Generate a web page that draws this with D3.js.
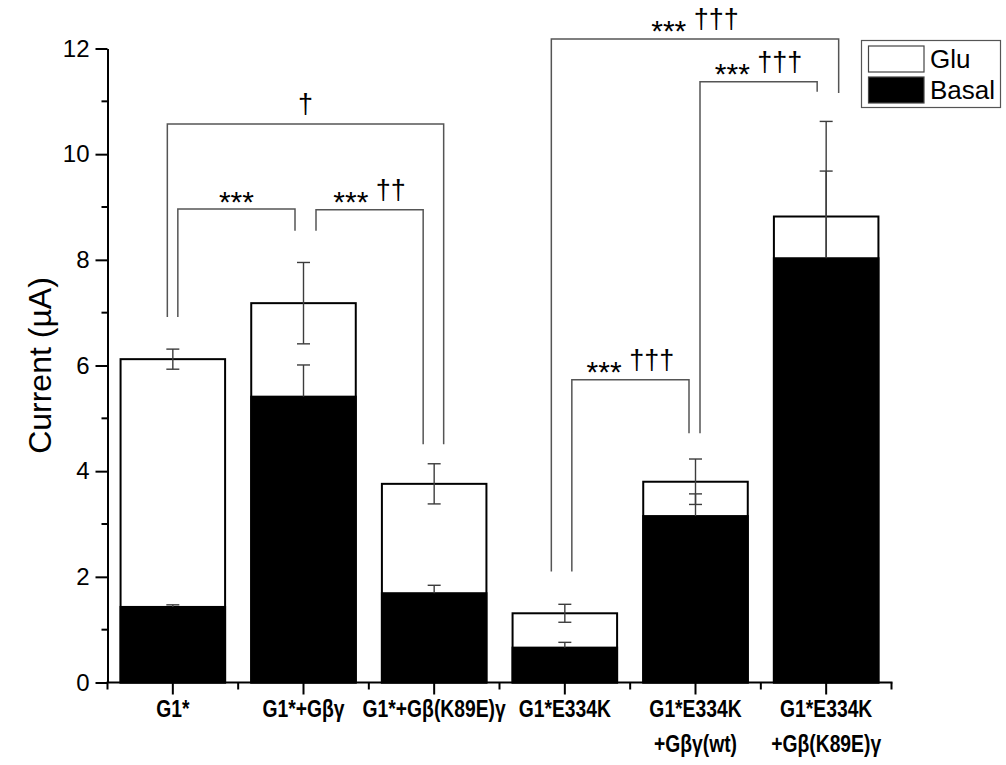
<!DOCTYPE html>
<html>
<head>
<meta charset="utf-8">
<script src="https://cdn.jsdelivr.net/npm/d3@7"></script>
<style>
  html, body { margin: 0; padding: 0; background: #fff; }
  svg { display: block; font-family: "Liberation Sans", Arial, sans-serif; }
</style>
</head>
<body>
<svg id="chart" width="1006" height="765"></svg>
<script>
// Groups (multi-line labels split on "\n")
const categories = [
  "G1*",
  "G1*+Gβγ",
  "G1*+Gβ(K89E)γ",
  "G1*E334K",
  "G1*E334K\n+Gβγ(wt)",
  "G1*E334K\n+Gβ(K89E)γ"
];

// Total current with glutamate (µA) and its error
const gluValues = [6.12, 7.18, 3.76, 1.31, 3.80, 8.82];
const gluErrors = [0.19, 0.77, 0.38, 0.17, 0.43, 1.80];

// Basal current (µA) and its error
const basalValues = [1.43, 5.41, 1.69, 0.66, 3.15, 8.03];
const basalErrors = [0.04, 0.60, 0.15, 0.10, 0.42, 1.65];

const yTicks = [0, 2, 4, 6, 8, 10, 12];
const yMinorTicks = [1, 3, 5, 7, 9, 11];

// Significance brackets: from/to group index, bracket level and leg ends (µA)
const brackets = [
  { from: 0, to: 2, level: 10.57, endFrom: 6.92, endTo: 4.51, stars: "",    daggers: "†",   nudgeFrom: -5.5, nudgeTo: 9.5 },
  { from: 0, to: 1, level: 8.96,  endFrom: 6.92, endTo: 8.55, stars: "***", daggers: "",    nudgeFrom: 5,    nudgeTo: -8.5 },
  { from: 1, to: 2, level: 8.95,  endFrom: 8.55, endTo: 4.51, stars: "***", daggers: "††",  nudgeFrom: 12.5, nudgeTo: -11 },
  { from: 3, to: 5, level: 12.18, endFrom: 2.10, endTo: 11.16, stars: "***", daggers: "†††", nudgeFrom: -13.5, nudgeTo: 12.5 },
  { from: 4, to: 5, level: 11.37, endFrom: 4.72, endTo: 11.18, stars: "***", daggers: "†††", nudgeFrom: 4.5,  nudgeTo: -9 },
  { from: 3, to: 4, level: 5.73,  endFrom: 2.10, endTo: 4.72, stars: "***", daggers: "†††", nudgeFrom: 7,    nudgeTo: -6.5 }
];

const legendItems = [
  { label: "Glu",   fill: "#fff" },
  { label: "Basal", fill: "#000" }
];

const svg = d3.select("#chart");

const plot = { left: 107.5, right: 891.5, top: 48.5, bottom: 682.5 };

const x = d3.scaleBand()
  .domain(categories)
  .range([plot.left, plot.right])
  .paddingInner(0.2)
  .paddingOuter(0.1);

const y = d3.scaleLinear()
  .domain([0, 12])
  .range([plot.bottom, plot.top]);

const cx = i => x(categories[i]) + x.bandwidth() / 2;
const capHalf = 6.5;

function bars(values, fill) {
  svg.append("g").selectAll("rect")
    .data(values)
    .join("rect")
    .attr("x", (d, i) => x(categories[i]))
    .attr("y", d => y(d))
    .attr("width", x.bandwidth())
    .attr("height", d => y(0) - y(d))
    .attr("fill", fill)
    .attr("stroke", "#000")
    .attr("stroke-width", 2);
}

// Error bars; the lower half of the basal ones sits inside the black bar
function errorBars(values, errors, lowerHalf) {
  const g = svg.append("g").attr("stroke", "#3c3c3c").attr("stroke-width", 1.4).attr("fill", "none");
  values.forEach((v, i) => {
    const c = cx(i);
    const hi = y(v + errors[i]);
    const lo = lowerHalf ? y(v - errors[i]) : y(v);
    g.append("line").attr("x1", c).attr("x2", c).attr("y1", hi).attr("y2", lo);
    g.append("line").attr("x1", c - capHalf).attr("x2", c + capHalf).attr("y1", hi).attr("y2", hi);
    if (lowerHalf) {
      g.append("line").attr("x1", c - capHalf).attr("x2", c + capHalf).attr("y1", lo).attr("y2", lo);
    }
  });
}

bars(gluValues, "#fff");
errorBars(gluValues, gluErrors, true);
bars(basalValues, "#000");
errorBars(basalValues, basalErrors, false);

// Y axis
const yAxis = svg.append("g").attr("transform", `translate(${plot.left},0)`);
yAxis.call(d3.axisLeft(y).tickValues(yTicks).tickSize(12).tickSizeOuter(0).tickPadding(6).tickFormat(d3.format("d")));
yAxis.select(".domain").attr("stroke", "#000").attr("stroke-width", 2);
yAxis.selectAll(".tick line").attr("stroke", "#000").attr("stroke-width", 2);
yAxis.selectAll(".tick text")
  .attr("font-size", 24)
  .attr("font-family", "Liberation Sans, Arial, sans-serif")
  .attr("fill", "#000");
yAxis.append("g").selectAll("line")
  .data(yMinorTicks)
  .join("line")
  .attr("x1", 0).attr("x2", -6)
  .attr("y1", d => y(d)).attr("y2", d => y(d))
  .attr("stroke", "#000").attr("stroke-width", 2);

// X axis
const xAxis = svg.append("g").attr("transform", `translate(0,${plot.bottom})`);
xAxis.append("line")
  .attr("x1", plot.left - 1).attr("x2", plot.right + 1)
  .attr("stroke", "#000").attr("stroke-width", 2);
const boundaries = d3.range(categories.length + 1).map(i => plot.left + i * x.step());
xAxis.selectAll(".minor")
  .data(boundaries)
  .join("line")
  .attr("class", "minor")
  .attr("x1", d => d).attr("x2", d => d)
  .attr("y1", 0).attr("y2", 7)
  .attr("stroke", "#000").attr("stroke-width", 2);
xAxis.selectAll(".major")
  .data(categories)
  .join("line")
  .attr("class", "major")
  .attr("x1", (d, i) => cx(i)).attr("x2", (d, i) => cx(i))
  .attr("y1", 0).attr("y2", 12)
  .attr("stroke", "#000").attr("stroke-width", 2);

// Condensed bold group labels
const catLabels = xAxis.selectAll(".cat")
  .data(categories)
  .join("text")
  .attr("class", "cat")
  .attr("text-anchor", "middle")
  .attr("font-weight", "bold")
  .attr("font-size", 23)
  .attr("fill", "#000")
  .attr("transform", (d, i) => `translate(${cx(i)},34) scale(0.84,1)`);
catLabels.each(function(d) {
  const t = d3.select(this);
  d.split("\n").forEach((line, k) => {
    t.append("tspan").attr("x", 0).attr("y", k * 36).text(line);
  });
});

// Axis title
svg.append("text")
  .attr("transform", `translate(51,${(plot.top + plot.bottom) / 2}) rotate(-90)`)
  .attr("text-anchor", "middle")
  .attr("font-size", 32)
  .attr("fill", "#000")
  .text("Current (µA)");

// Significance brackets
const bg = svg.append("g");
brackets.forEach(b => {
  const x1 = cx(b.from) + b.nudgeFrom;
  const x2 = cx(b.to) + b.nudgeTo;
  const yl = y(b.level);
  bg.append("path")
    .attr("d", `M${x1},${y(b.endFrom)}V${yl}H${x2}V${y(b.endTo)}`)
    .attr("fill", "none")
    .attr("stroke", "#555")
    .attr("stroke-width", 1.5);
  const t = bg.append("text")
    .attr("x", (x1 + x2) / 2)
    .attr("y", yl - 11)
    .attr("text-anchor", "middle")
    .attr("fill", "#000");
  if (b.stars) {
    t.append("tspan").attr("font-size", 30).attr("dy", 13.5).text(b.stars);
  }
  if (b.daggers) {
    t.append("tspan").attr("font-size", 27).attr("dy", b.stars ? -13.5 : 0)
      .text((b.stars ? " " : "") + b.daggers);
  }
});

// Legend
const lg = svg.append("g");
lg.append("rect")
  .attr("x", 861.5).attr("y", 40.5).attr("width", 139).attr("height", 67)
  .attr("fill", "#fff").attr("stroke", "#555").attr("stroke-width", 1.2);
legendItems.forEach((item, k) => {
  const top = 46 + k * 31;
  lg.append("rect")
    .attr("x", 868.5).attr("y", top).attr("width", 55.5).attr("height", 26)
    .attr("fill", item.fill).attr("stroke", "#444").attr("stroke-width", 1.2);
  lg.append("text")
    .attr("x", 930).attr("y", top + 22)
    .attr("font-size", 26)
    .attr("fill", "#000")
    .text(item.label);
});
</script>
</body>
</html>
